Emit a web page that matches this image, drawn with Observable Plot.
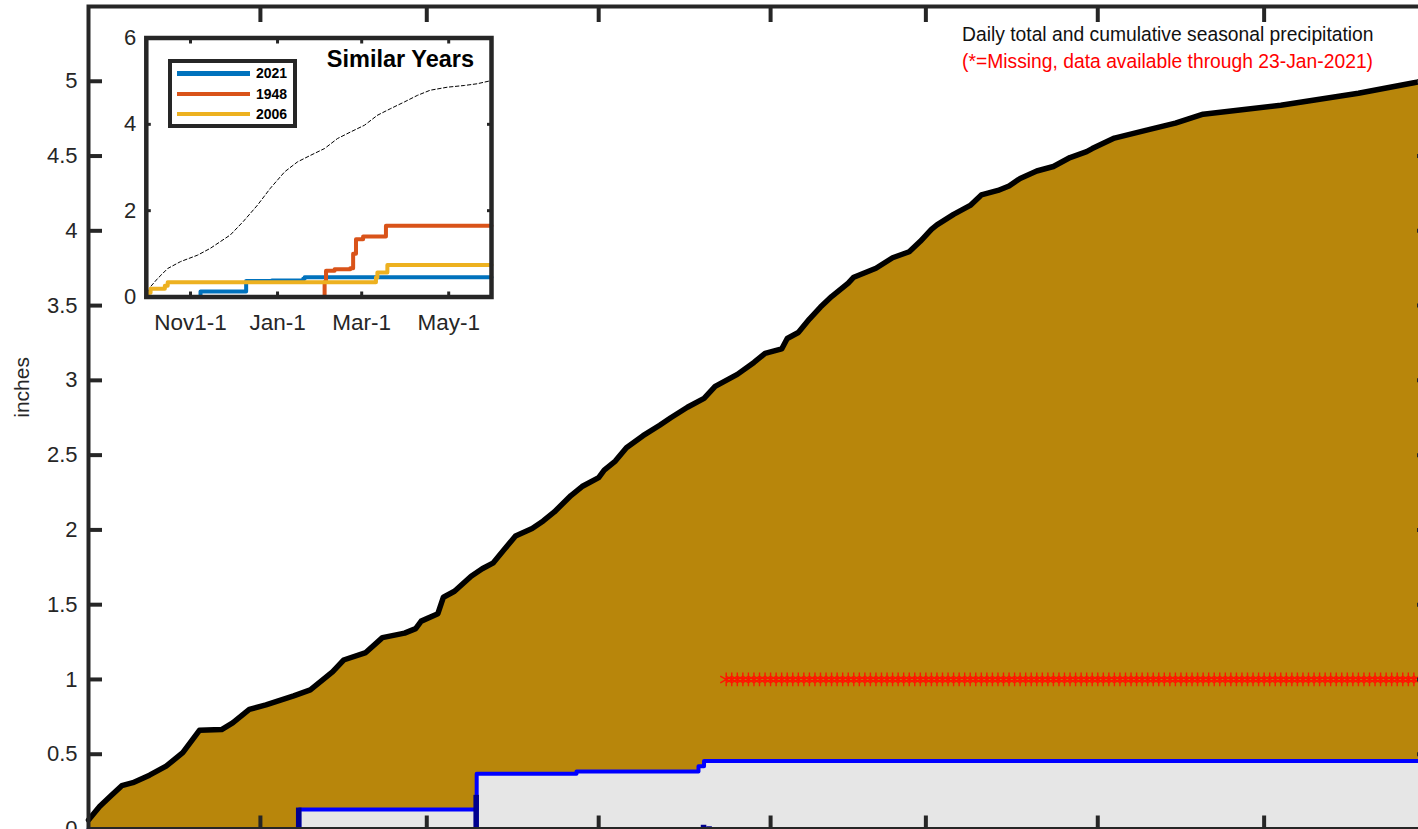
<!DOCTYPE html>
<html>
<head>
<meta charset="utf-8">
<script src="https://cdn.jsdelivr.net/npm/d3@7"></script>
<script src="https://cdn.jsdelivr.net/npm/@observablehq/plot@0.6"></script>
<style>
html,body{margin:0;padding:0;background:#fff;overflow:hidden;width:1418px;height:829px;}
#wrap{position:relative;width:1418px;height:829px;overflow:hidden;font-family:"Liberation Sans",Arial,Helvetica,sans-serif;}
#wrap svg{max-width:none !important;}
#main{position:absolute;left:0;top:0;}
#inset{position:absolute;left:100px;top:10px;}
.note{position:absolute;left:962px;font-size:19.3px;line-height:1;white-space:nowrap;}
#legend{position:absolute;left:168px;top:59px;width:121px;height:61px;border:4px solid #262626;background:#fff;}
.sw{position:absolute;left:5px;width:73px;height:4.5px;}
.lab{position:absolute;left:84px;font-size:14px;font-weight:bold;line-height:1;color:#000;}
</style>
</head>
<body>
<div id="wrap">
  <div id="main"></div>
  <div id="inset"></div>
  <div class="note" style="top:25.4px;color:#111;">Daily total and cumulative seasonal precipitation</div>
  <div class="note" style="top:52.2px;color:#ff0000;">(*=Missing, data available through 23-Jan-2021)</div>
  <div id="legend"></div>
</div>
<script>
// ---- Season axis: days since 1 Oct 2020 ----
const seasonEndDay = 242;                 // 31 May 2021
const monthTickDays = [31, 61, 92, 123, 151, 182, 212];
const yTicks = [0, 0.5, 1, 1.5, 2, 2.5, 3, 3.5, 4, 4.5, 5];

// ---- Normal cumulative seasonal precipitation (inches) ----
const normalDay = [0,2,4,6,8,11,14,17,20,24,26,29,32,37,40,44,46,50,53,57,59,60,63,64,66,69,71,73,75,77,80,82,84,87,89,92,93,95,97,100,103,105,108,111,113,115,117,120,122,125,126,128,130,132,134,137,138,142,145,148,150,152,153,156,159,161,164,166,168,171,174,177,180,181,185,191,196,201,208,215,222,229,234,239,242];
const normalCum = [0.06,0.15,0.22,0.29,0.31,0.36,0.42,0.51,0.66,0.665,0.71,0.80,0.83,0.89,0.93,1.05,1.13,1.18,1.28,1.31,1.34,1.39,1.44,1.55,1.59,1.69,1.74,1.78,1.87,1.96,2.01,2.06,2.12,2.23,2.29,2.35,2.40,2.46,2.55,2.63,2.70,2.75,2.82,2.88,2.96,3.00,3.04,3.12,3.18,3.21,3.28,3.32,3.41,3.49,3.56,3.65,3.69,3.75,3.82,3.86,3.93,4.01,4.04,4.11,4.17,4.24,4.27,4.30,4.35,4.40,4.43,4.49,4.53,4.55,4.62,4.675,4.72,4.78,4.81,4.84,4.88,4.92,4.955,4.99,5.01];

// ---- 2020-21 observed cumulative and daily totals ----
const obsDay = [0, 38, 70, 88, 110, 111, 242];
const obsCum = [0, 0.13, 0.37, 0.385, 0.42, 0.455, 0.455];
const dailyDay = [38, 70, 111, 112];
const dailyAmt = [0.14, 0.225, 0.025, 0.015];

// ---- Missing days (from 24 Jan 2021 to end), drawn at 1 inch ----
const missingFirstDay = 115;
const missingLastDay = 242;
const missingLevel = 1;

// ---- Inset: similar years ----
const insetTickDays = [31, 92, 151, 212];
const insetTickLabels = ["Nov1-1", "Jan-1", "Mar-1", "May-1"];
const insetYTicks = [0, 2, 4, 6];
const insetNormalDay = [0,3,8,15,24,36,45,59,68,78,87,97,106,115,125,134,143,153,162,171,181,190,199,211,223,232,240];
const insetNormalCum = [0,0.24,0.43,0.66,0.82,0.97,1.13,1.44,1.75,2.13,2.52,2.90,3.13,3.28,3.44,3.67,3.82,3.98,4.21,4.36,4.52,4.67,4.79,4.86,4.90,4.94,5.0];
const y1948Day = [0,125,126,132,143,145,147,152,168,242];
const y1948Cum = [0,0.35,0.61,0.64,0.665,1.0,1.34,1.40,1.65,1.65];
const y2006Day = [0,1,3,13,15,161,162,169,242];
const y2006Cum = [0,0.1,0.19,0.26,0.34,0.45,0.57,0.74,0.74];
const years = ["2021", "1948", "2006"];
const yearColors = ["#0072BD", "#D95319", "#EDB120"];

// ---- build tables ----
const pairs = (days, vals) => days.map((d, i) => ({day: d, value: vals[i]}));
const normal = pairs(normalDay, normalCum);
const obs = pairs(obsDay, obsCum);
const daily = pairs(dailyDay, dailyAmt);
const missing = d3.range(missingFirstDay, missingLastDay + 1);
const insetNormal = pairs(insetNormalDay, insetNormalCum);
const series = [pairs(obsDay, obsCum), pairs(y1948Day, y1948Cum), pairs(y2006Day, y2006Cum)];

const axisColor = "#262626";
const font = "Liberation Sans, Arial, Helvetica, sans-serif";

const main = Plot.plot({
  width: 1440, height: 880,
  marginLeft: 88, marginRight: 10, marginTop: 6, marginBottom: 51.5,
  x: {domain: [0, seasonEndDay], axis: null},
  y: {domain: [0, 5.5], axis: null},
  style: {background: "transparent", fontFamily: font, maxWidth: "none"},
  marks: [
    Plot.areaY(normal, {x: "day", y: "value", curve: "linear", fill: "#B8860B"}),
    Plot.areaY(obs, {x: "day", y: "value", curve: "step-after", fill: "#E6E6E6"}),
    Plot.line(obs, {x: "day", y: "value", curve: "step-after", stroke: "#0000FF", strokeWidth: 4}),
    Plot.line(normal, {x: "day", y: "value", curve: "linear", stroke: "#000", strokeWidth: 5.5}),
    Plot.rect(daily, {x1: d => d.day - 0.5, x2: d => d.day + 0.5, y1: 0, y2: "value", fill: "#00008F"}),
    Plot.dot(missing, {x: d => d, y: missingLevel, symbol: "asterisk", r: 6.5, stroke: "#FF1500", strokeWidth: 1.4}),
    Plot.axisY({ticks: yTicks, tickSize: 0, tickPadding: 11, fill: axisColor, fontSize: 22, tickFormat: d => String(d), label: null}),
    Plot.axisY({ticks: yTicks, tickSize: -14, stroke: axisColor, strokeWidth: 4, fill: "none", label: null}),
    Plot.axisY({anchor: "right", ticks: yTicks, tickSize: -14, stroke: axisColor, strokeWidth: 4, fill: "none", label: null}),
    Plot.axisX({anchor: "bottom", ticks: monthTickDays, tickSize: -13, stroke: axisColor, strokeWidth: 4, fill: "none", label: null}),
    Plot.axisX({anchor: "top", ticks: monthTickDays, tickSize: -15, stroke: axisColor, strokeWidth: 4, fill: "none", label: null}),
    Plot.frame({stroke: axisColor, strokeWidth: 4}),
    Plot.text(["inches"], {frameAnchor: "left", dx: -66, rotate: -90, fontSize: 21, fill: axisColor})
  ]
});
document.getElementById("main").appendChild(main);

const labelByDay = new Map(insetTickDays.map((d, i) => [d, insetTickLabels[i]]));
const inset = Plot.plot({
  width: 401, height: 330,
  marginLeft: 45.8, marginRight: 10, marginTop: 27.5, marginBottom: 43.5,
  x: {domain: [0, seasonEndDay], axis: null},
  y: {domain: [0, 6], axis: null},
  style: {background: "transparent", fontFamily: font, maxWidth: "none"},
  marks: [
    Plot.frame({fill: "white"}),
    Plot.line(insetNormal, {x: "day", y: "value", stroke: "#000", strokeWidth: 1, strokeDasharray: "3.5,2.5"}),
    ...series.map((s, i) => Plot.line(s, {x: "day", y: "value", curve: "step-after", stroke: yearColors[i], strokeWidth: 4})),
    Plot.axisY({ticks: insetYTicks, tickSize: 0, tickPadding: 10, fill: axisColor, fontSize: 22, tickFormat: d => String(d), label: null}),
    Plot.axisY({ticks: insetYTicks, tickSize: -5, stroke: axisColor, strokeWidth: 3, fill: "none", label: null}),
    Plot.axisY({anchor: "right", ticks: insetYTicks, tickSize: -5, stroke: axisColor, strokeWidth: 3, fill: "none", label: null}),
    Plot.axisX({anchor: "bottom", ticks: insetTickDays, tickSize: 0, tickPadding: 17, fill: axisColor, fontSize: 22.5, tickFormat: d => labelByDay.get(d), label: null}),
    Plot.axisX({anchor: "bottom", ticks: insetTickDays, tickSize: -5, stroke: axisColor, strokeWidth: 3, fill: "none", label: null}),
    Plot.axisX({anchor: "top", ticks: insetTickDays, tickSize: -5, stroke: axisColor, strokeWidth: 3, fill: "none", label: null}),
    Plot.frame({stroke: axisColor, strokeWidth: 4.5}),
    Plot.text(["Similar Years"], {frameAnchor: "top-right", dx: -17.5, dy: 12.5, lineAnchor: "top", fontSize: 23.5, fontWeight: "bold", fill: "#000"})
  ]
});
document.getElementById("inset").appendChild(inset);

// legend (HTML)
const legend = document.getElementById("legend");
const rowY = [10.5, 31, 51];
years.forEach((yr, i) => {
  const sw = document.createElement("div");
  sw.className = "sw";
  sw.style.top = (rowY[i] - 2.25) + "px";
  sw.style.background = yearColors[i];
  legend.appendChild(sw);
  const lab = document.createElement("div");
  lab.className = "lab";
  lab.style.top = (rowY[i] - 7.5) + "px";
  lab.textContent = yr;
  legend.appendChild(lab);
});
</script>
</body>
</html>
